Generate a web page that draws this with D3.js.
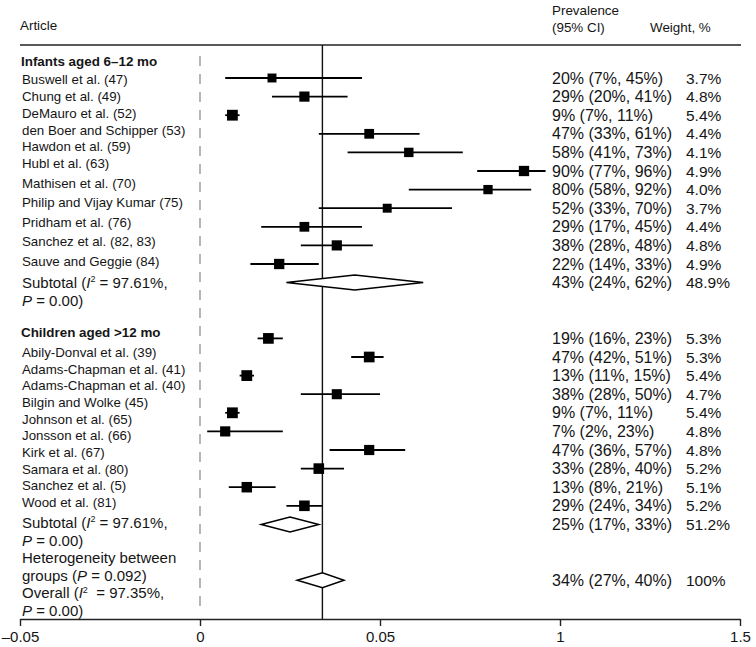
<!DOCTYPE html>
<html><head><meta charset="utf-8">
<script src="https://cdn.jsdelivr.net/npm/d3@7"></script>
<style>
body{margin:0;background:#fff}
svg{display:block}
text{font-family:"Liberation Sans",Arial,Helvetica,sans-serif;fill:#151515;white-space:pre}
</style>
</head><body>
<svg id="chart" width="756" height="647"></svg>
<script>
// ---------- data ----------
const infantStudies = ["Buswell et al. (47)", "Chung et al. (49)", "DeMauro et al. (52)", "den Boer and Schipper (53)",
  "Hawdon et al. (59)", "Hubl et al. (63)", "Mathisen et al. (70)", "Philip and Vijay Kumar (75)",
  "Pridham et al. (76)", "Sanchez et al. (82, 83)", "Sauve and Geggie (84)"];
const infantEst    = [20, 29, 9, 47, 58, 90, 80, 52, 29, 38, 22];
const infantLo     = [7, 20, 7, 33, 41, 77, 58, 33, 17, 28, 14];
const infantHi     = [45, 41, 11, 61, 73, 96, 92, 70, 45, 48, 33];
const infantWeight = [3.7, 4.8, 5.4, 4.4, 4.1, 4.9, 4.0, 3.7, 4.4, 4.8, 4.9];
const infantSubtotal = [43, 24, 62, 48.9];   // est, lo, hi, weight

const childStudies = ["Abily-Donval et al. (39)", "Adams-Chapman et al. (41)", "Adams-Chapman et al. (40)",
  "Bilgin and Wolke (45)", "Johnson et al. (65)", "Jonsson et al. (66)", "Kirk et al. (67)",
  "Samara et al. (80)", "Sanchez et al. (5)", "Wood et al. (81)"];
const childEst    = [19, 47, 13, 38, 9, 7, 47, 33, 13, 29];
const childLo     = [16, 42, 11, 28, 7, 2, 36, 28, 8, 24];
const childHi     = [23, 51, 15, 50, 11, 23, 57, 40, 21, 34];
const childWeight = [5.3, 5.3, 5.4, 4.7, 5.4, 4.8, 4.8, 5.2, 5.1, 5.2];
const childSubtotal = [25, 17, 33, 51.2];

const overall = [34, 27, 40, 100];

const groupTitles = ["Infants aged 6\u201312 mo", "Children aged >12 mo"];
const tickValues = [-0.5, 0, 0.5, 1, 1.5];
const tickLabels = ["\u20130.05", "0", "0.05", "1", "1.5"];

// ---------- layout ----------
const svg = d3.select("#chart");
const x = d3.scaleLinear().domain([-0.5, 1.5]).range([20, 740]);
const yRow = d3.scaleLinear().domain([0, 27]).range([78, 580.2]);
const infantLabelY = d3.scaleLinear().domain([0, 2, 5, 10]).range([79, 113, 163, 261]);
const childLabelY = d3.scaleLinear().domain([0, 9]).range([352, 502]);
const sq = d3.scaleSqrt().domain([0, 5.4]).range([0, 10.8]);

const AXIS_Y = 619, HEADER_Y = 45;
const X_LABEL = 22, X_VAL = 552, X_W = 686;
const FS_LABEL = 13.3, FS_VAL = 16, FS_W = 15.5, FS_SUB = 15;

function rich(x0, y0, parts, size, weight) {
  const t = svg.append("text").attr("x", x0).attr("y", y0)
    .attr("font-size", size).attr("font-weight", weight || "normal");
  parts.forEach(p => {
    const ts = t.append("tspan").text(p.t);
    if (p.i) ts.attr("font-style", "italic");
    if (p.sup) ts.attr("font-size", size * 0.6).attr("dy", -size * 0.38);
    if (p.down) ts.attr("dy", size * 0.38);
  });
  return t;
}

// header
rich(20, 30, [{t: "Article"}], 13.4);
rich(X_VAL, 15, [{t: "Prevalence"}], 13.4);
rich(X_VAL, 32, [{t: "(95% CI)"}], 13.4);
rich(650, 32, [{t: "Weight, %"}], 13.4);
svg.append("line").attr("x1", 20).attr("x2", 741).attr("y1", HEADER_Y).attr("y2", HEADER_Y)
  .attr("stroke", "#222").attr("stroke-width", 1.6);

// reference lines
svg.append("line").attr("x1", x(0)).attr("x2", x(0)).attr("y1", 56).attr("y2", 612)
  .attr("stroke", "#7a7a7a").attr("stroke-width", 1.1).attr("stroke-dasharray", "10,8");
svg.append("line").attr("x1", x(overall[0] / 100)).attr("x2", x(overall[0] / 100))
  .attr("y1", HEADER_Y).attr("y2", AXIS_Y).attr("stroke", "#111").attr("stroke-width", 1.4);

const pct = v => v + "%";
const valText = (e, l, h) => `${pct(e)} (${pct(l)}, ${pct(h)})`;

function studies(names, est, lo, hi, wt, rowStart, labelY) {
  names.forEach((n, i) => {
    const yy = yRow(rowStart + i);
    rich(X_LABEL, labelY(i) + 5, [{t: n}], FS_LABEL);
    svg.append("line").attr("x1", x(lo[i] / 100)).attr("x2", x(hi[i] / 100))
      .attr("y1", yy).attr("y2", yy).attr("stroke", "#000").attr("stroke-width", 1.8);
    const s = sq(wt[i]);
    svg.append("rect").attr("x", x(est[i] / 100) - s / 2).attr("y", yy - s / 2)
      .attr("width", s).attr("height", s).attr("fill", "#000");
    rich(X_VAL, yy + 5.5, [{t: valText(est[i], lo[i], hi[i])}], FS_VAL);
    rich(X_W, yy + 5.5, [{t: wt[i].toFixed(1) + "%"}], FS_W);
  });
}

function diamond(vals, row, wText) {
  const yy = yRow(row), h = 7.5;
  const pts = [[x(vals[1] / 100), yy], [x(vals[0] / 100), yy - h], [x(vals[2] / 100), yy], [x(vals[0] / 100), yy + h]];
  svg.append("path").attr("d", d3.line()(pts) + "Z")
    .attr("fill", "#fff").attr("stroke", "#000").attr("stroke-width", 1.5);
  rich(X_VAL, yy + 5.5, [{t: valText(vals[0], vals[1], vals[2])}], FS_VAL);
  rich(X_W, yy + 5.5, [{t: wText}], FS_W);
}

// infants
rich(21, 66, [{t: groupTitles[0]}], 13.4, "bold");
studies(infantStudies, infantEst, infantLo, infantHi, infantWeight, 0, infantLabelY);
diamond(infantSubtotal, 11, infantSubtotal[3].toFixed(1) + "%");
rich(X_LABEL, 288, [{t: "Subtotal ("}, {t: "I", i: true}, {t: "2", sup: true}, {t: " = 97.61%,", down: true}], FS_SUB);
rich(X_LABEL, 306, [{t: "P", i: true}, {t: " = 0.00)"}], FS_SUB);

// children
rich(21, 337, [{t: groupTitles[1]}], 13.4, "bold");
studies(childStudies, childEst, childLo, childHi, childWeight, 14, childLabelY);
diamond(childSubtotal, 24, childSubtotal[3].toFixed(1) + "%");
const lowY = d3.scaleLinear().domain([0, 5]).range([528, 616]);
rich(X_LABEL, lowY(0), [{t: "Subtotal ("}, {t: "I", i: true}, {t: "2", sup: true}, {t: " = 97.61%,", down: true}], FS_SUB);
rich(X_LABEL, lowY(1), [{t: "P", i: true}, {t: " = 0.00)"}], FS_SUB);
rich(X_LABEL, lowY(2), [{t: "Heterogeneity between"}], FS_SUB);
rich(X_LABEL, lowY(3), [{t: "groups ("}, {t: "P", i: true}, {t: " = 0.092)"}], FS_SUB);
rich(X_LABEL, lowY(4), [{t: "Overall ("}, {t: "I", i: true}, {t: "2", sup: true}, {t: "  = 97.35%,", down: true}], FS_SUB);
rich(X_LABEL, lowY(5), [{t: "P", i: true}, {t: " = 0.00)"}], FS_SUB);

// overall
diamond(overall, 27, overall[3] + "%");

// axis
const axis = d3.axisBottom(x).tickValues(tickValues)
  .tickFormat((d, i) => tickLabels[i]).tickSizeOuter(0).tickSizeInner(7).tickPadding(5);
const ag = svg.append("g").attr("transform", `translate(0,${AXIS_Y})`).call(axis);
ag.select(".domain").attr("stroke", "#222").attr("stroke-width", 1.6);
ag.selectAll(".tick line").attr("stroke", "#222").attr("stroke-width", 1.4);
ag.selectAll(".tick text").attr("font-size", 15).attr("font-family", "Liberation Sans, Arial, sans-serif")
  .attr("fill", "#151515");
</script>
</body></html>
